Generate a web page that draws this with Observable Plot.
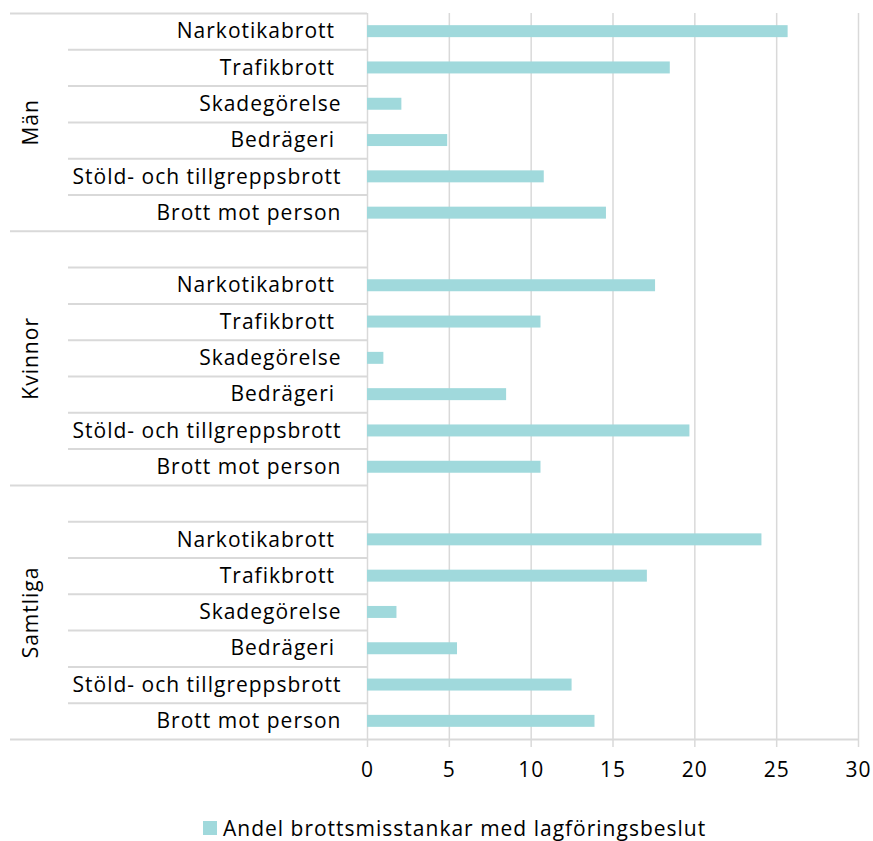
<!DOCTYPE html>
<html>
<head>
<meta charset="utf-8">
<script src="https://cdn.jsdelivr.net/npm/d3@7"></script>
<script src="https://cdn.jsdelivr.net/npm/@observablehq/plot@0.6"></script>
<style>
  html, body { margin: 0; padding: 0; background: #fff; }
  #chart { width: 873px; height: 790px; }
  #chart svg text { white-space: pre; letter-spacing: 1px; }
  #legend { width: 873px; font-family: "Open Sans", sans-serif; font-size: 21px; letter-spacing: 1px; color: #000; position: relative; height: 51px; }
  #legend .item { position: absolute; left: 203px; top: 28px; display: flex; align-items: center; white-space: nowrap; line-height: 20px; }
  #legend .sw { width: 14px; height: 14px; background: #a0d9dc; margin-right: 6px; }
</style>
</head>
<body>
<div id="chart"></div>
<div id="legend"></div>
<script>
const groups = ["Män", "Kvinnor", "Samtliga"];
const categories = ["Narkotikabrott ", "Trafikbrott ", "Skadegörelse", "Bedrägeri ", "Stöld- och tillgreppsbrott", "Brott mot person"];
const valuesMan = [25.7, 18.5, 2.1, 4.9, 10.8, 14.6];
const valuesKvinnor = [17.6, 10.6, 1.0, 8.5, 19.7, 10.6];
const valuesSamtliga = [24.1, 17.1, 1.8, 5.5, 12.5, 13.9];
const xTicks = [0, 5, 10, 15, 20, 25, 30];
const seriesName = "Andel brottsmisstankar med lagföringsbeslut";

const groupValues = [valuesMan, valuesKvinnor, valuesSamtliga];

// Rows: Män (6 rows), then a blank row + 6 rows for each subsequent group
const rows = [];
const groupSpans = [];
groups.forEach((g, gi) => {
  const start = rows.length;
  if (gi > 0) rows.push({group: g, blank: true, row: rows.length});
  categories.forEach((c, ci) => {
    rows.push({group: g, cat: c, value: groupValues[gi][ci], blank: false, row: rows.length});
  });
  groupSpans.push({group: g, start, end: rows.length});
});
const nRows = rows.length;
const bars = rows.filter(d => !d.blank);

// separator lines at the top of every row; long ones at group boundaries
const seps = d3.range(nRows).map(i => ({pos: i, long: i === 0 || rows[i].blank}));

const bandFrac = 0.33; // bar thickness as a fraction of a row
const font = "'Open Sans', sans-serif";
const grid = "#d9d9d9";
const W = 873, ML = 10, MR = 15, X0 = 367, X1 = 858;

const plot = Plot.plot({
  width: W,
  height: 790,
  marginLeft: ML,
  marginRight: MR,
  marginTop: 13,
  marginBottom: 51,
  style: {fontFamily: font, fontSize: "21px", color: "#000", background: "#fff"},
  x: {domain: [0, 30], range: [X0, X1], ticks: xTicks},
  y: {domain: [0, nRows], range: [13, 739], axis: null},
  marks: [
    Plot.gridX(xTicks, {y1: 0, y2: nRows, stroke: grid, strokeOpacity: 1, strokeWidth: 1.5}),
    Plot.ruleY(seps.filter(d => d.long), {y: "pos", stroke: grid, strokeWidth: 2, insetRight: X1 - X0}),
    Plot.ruleY(seps.filter(d => !d.long), {y: "pos", stroke: grid, strokeWidth: 2, insetLeft: 58, insetRight: X1 - X0}),
    Plot.ruleY([nRows], {stroke: grid, strokeWidth: 2}),
    Plot.rectX(bars, {
      x1: 0, x2: "value",
      y1: d => d.row + (1 - bandFrac) / 2,
      y2: d => d.row + (1 + bandFrac) / 2,
      fill: "#a0d9dc"
    }),
    Plot.text(bars, {x: 0, y: d => d.row + 0.5, text: "cat", textAnchor: "end", dx: -26, fill: "#000", fontSize: 21}),
    Plot.text(groupSpans, {frameAnchor: "left", dx: 21, y: d => (d.start + d.end) / 2, text: "group", rotate: -90, textAnchor: "middle", fill: "#000", fontSize: 21}),
    Plot.axisX(xTicks, {anchor: "bottom", tickSize: 8, tickPadding: 15, stroke: grid, strokeWidth: 1.5, fontSize: 21, fill: "#000", label: null})
  ]
});

document.getElementById("chart").appendChild(plot);
document.getElementById("legend").innerHTML = `<div class="item"><span class="sw"></span><span>${seriesName}</span></div>`;
</script>
</body>
</html>
